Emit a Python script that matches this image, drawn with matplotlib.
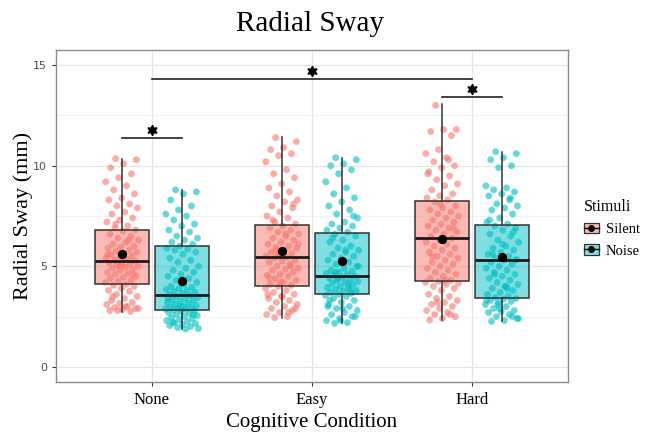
import numpy as np
import matplotlib
matplotlib.use("Agg")
import matplotlib.pyplot as plt
from matplotlib.patches import Patch
from matplotlib.lines import Line2D
from matplotlib.legend_handler import HandlerTuple
from matplotlib.colors import to_rgba

# ---------------- data ----------------
conditions = ["None", "Easy", "Hard"]
stimuli = ["Silent", "Noise"]

# box summary per condition (Silent / Noise)
silent_whislo = [2.74, 2.45, 2.33]
silent_q1 = [4.11, 4.00, 4.26]
silent_med = [5.26, 5.45, 6.39]
silent_q3 = [6.78, 7.06, 8.23]
silent_whishi = [10.35, 11.42, 13.05]
silent_mean = [5.63, 5.76, 6.34]

noise_whislo = [1.88, 2.16, 2.26]
noise_q1 = [2.82, 3.64, 3.43]
noise_med = [3.58, 4.54, 5.31]
noise_q3 = [6.00, 6.67, 7.06]
noise_whishi = [8.81, 10.38, 10.68]
noise_mean = [4.29, 5.26, 5.48]

# individual subjects (approximate readings)
none_silent = [10.35, 10.3, 10.1, 9.9, 9.6, 9.4, 9.2, 9.0, 8.8, 8.6, 8.4, 8.3, 8.1, 8.0,
               7.9, 7.7, 7.6, 7.4, 7.3, 7.2, 7.0, 6.9, 6.8, 6.75, 6.6, 6.5, 6.4, 6.3, 6.2,
               6.1, 6.0, 5.95, 5.9, 5.8, 5.75, 5.7, 5.6, 5.55, 5.5, 5.45, 5.4, 5.35, 5.3,
               5.25, 5.2, 5.15, 5.1, 5.05, 5.0, 4.95, 4.9, 4.85, 4.8, 4.7, 4.65, 4.6, 4.5,
               4.45, 4.4, 4.3, 4.25, 4.2, 4.1, 4.05, 4.0, 3.9, 3.8, 3.75, 3.6, 3.5, 3.4,
               3.3, 3.2, 3.15, 3.1, 3.0, 2.95, 2.9, 2.85, 2.8, 2.75, 2.8, 2.9, 3.0, 3.5,
               4.6, 5.0, 5.6, 6.3, 7.1]
none_noise = [8.8, 8.7, 8.6, 8.3, 8.0, 7.8, 7.6, 7.5, 7.3, 7.1, 7.0, 6.8, 6.7, 6.5, 6.4,
              6.3, 6.2, 6.1, 6.0, 5.9, 5.85, 5.8, 5.7, 5.6, 5.4, 5.3, 5.2, 5.0, 4.9, 4.8,
              4.7, 4.6, 4.5, 4.4, 4.3, 4.2, 4.1, 4.0, 3.95, 3.9, 3.85, 3.8, 3.75, 3.7,
              3.65, 3.6, 3.55, 3.5, 3.45, 3.4, 3.35, 3.3, 3.25, 3.2, 3.15, 3.1, 3.05, 3.0,
              2.98, 2.95, 2.9, 2.88, 2.85, 2.8, 2.78, 2.75, 2.7, 2.65, 2.6, 2.55, 2.5,
              2.45, 2.4, 2.35, 2.3, 2.25, 2.2, 2.15, 2.1, 2.05, 2.0, 1.95, 1.9, 1.88, 2.2,
              2.6, 3.0, 3.4]
easy_silent = [11.4, 11.2, 10.9, 10.8, 10.6, 10.5, 10.2, 9.8, 9.6, 9.4, 9.1, 8.9, 8.7, 8.5,
               8.3, 8.2, 8.0, 7.9, 7.7, 7.5, 7.4, 7.2, 7.1, 7.0, 6.9, 6.8, 6.7, 6.6, 6.5,
               6.4, 6.3, 6.2, 6.1, 6.0, 5.95, 5.9, 5.8, 5.7, 5.65, 5.6, 5.5, 5.45, 5.4,
               5.3, 5.25, 5.2, 5.1, 5.0, 4.9, 4.85, 4.8, 4.7, 4.6, 4.55, 4.5, 4.4, 4.3,
               4.2, 4.1, 4.05, 4.0, 3.9, 3.8, 3.7, 3.6, 3.5, 3.4, 3.3, 3.2, 3.1, 3.0, 2.9,
               2.8, 2.7, 2.6, 2.5, 2.45, 2.9, 3.5, 4.4, 5.0, 5.5, 6.1, 6.6, 7.3, 8.1, 4.2,
               3.6, 2.7, 5.8]
easy_noise = [10.4, 10.3, 10.1, 10.0, 9.8, 9.6, 9.2, 8.9, 8.6, 8.4, 8.2, 8.0, 7.8, 7.6,
              7.4, 7.2, 7.1, 7.0, 6.9, 6.8, 6.7, 6.6, 6.5, 6.3, 6.2, 6.0, 5.9, 5.8, 5.7,
              5.6, 5.5, 5.4, 5.3, 5.2, 5.1, 5.0, 4.9, 4.8, 4.75, 4.7, 4.65, 4.6, 4.55,
              4.5, 4.45, 4.4, 4.35, 4.3, 4.25, 4.2, 4.15, 4.1, 4.0, 3.95, 3.9, 3.85, 3.8,
              3.75, 3.7, 3.65, 3.6, 3.55, 3.5, 3.4, 3.3, 3.2, 3.1, 3.0, 2.9, 2.8, 2.7,
              2.6, 2.5, 2.4, 2.3, 2.2, 2.16, 2.5, 2.9, 3.3, 3.8, 4.4, 5.0, 5.8, 6.4, 7.5,
              2.3, 3.0, 4.1, 4.7]
hard_silent = [13.0, 11.8, 11.8, 11.7, 11.5, 10.8, 10.6, 10.4, 10.2, 10.0, 9.9, 9.7, 9.5,
               9.3, 9.1, 9.0, 8.8, 8.6, 8.5, 8.4, 8.3, 8.2, 8.0, 7.9, 7.8, 7.7, 7.6, 7.5,
               7.4, 7.3, 7.2, 7.1, 7.0, 6.9, 6.8, 6.7, 6.6, 6.5, 6.4, 6.3, 6.2, 6.1, 6.0,
               5.9, 5.8, 5.7, 5.6, 5.5, 5.4, 5.3, 5.2, 5.1, 5.0, 4.9, 4.8, 4.7, 4.6, 4.5,
               4.4, 4.3, 4.25, 4.2, 4.1, 4.0, 3.9, 3.8, 3.6, 3.5, 3.4, 3.3, 3.2, 3.1, 3.0,
               2.9, 2.8, 2.7, 2.6, 2.5, 2.4, 2.33, 2.6, 3.2, 4.15, 4.3, 5.5, 6.9, 8.1,
               9.6, 10.3]
hard_noise = [10.7, 10.6, 10.4, 10.3, 10.0, 9.9, 9.0, 8.9, 8.8, 8.7, 8.6, 8.5, 8.3, 8.1,
              8.0, 7.9, 7.8, 7.6, 7.4, 7.2, 7.1, 7.0, 6.9, 6.8, 6.6, 6.5, 6.3, 6.2, 6.0,
              5.9, 5.8, 5.7, 5.6, 5.5, 5.4, 5.35, 5.3, 5.2, 5.1, 5.0, 4.9, 4.8, 4.7, 4.6,
              4.5, 4.4, 4.3, 4.2, 4.1, 4.0, 3.9, 3.8, 3.7, 3.6, 3.5, 3.45, 3.4, 3.35, 3.3,
              3.25, 3.2, 3.1, 3.0, 2.9, 2.8, 2.75, 2.7, 2.6, 2.5, 2.4, 2.3, 2.26, 2.5, 2.9,
              3.3, 3.9, 4.6, 5.3, 6.1, 7.3, 8.4, 3.1, 2.4, 4.0, 5.6, 6.7]

points = {("None", "Silent"): none_silent, ("None", "Noise"): none_noise,
          ("Easy", "Silent"): easy_silent, ("Easy", "Noise"): easy_noise,
          ("Hard", "Silent"): hard_silent, ("Hard", "Noise"): hard_noise}

colors = {"Silent": "#F8766D", "Noise": "#00BFC4"}
dodge = {"Silent": -0.1875, "Noise": 0.1875}

# ---------------- figure ----------------
fig = plt.figure(figsize=(6.46, 4.32), dpi=100)
ax = fig.add_axes([0.0867, 0.116, 0.7925, 0.768])

serif = "Liberation Serif"

# jittered points
for i, cond in enumerate(conditions):
    for s in stimuli:
        ys = np.array(points[(cond, s)])
        k = np.arange(len(ys))
        jit = ((k * 0.6180339887 + 0.31) % 1.0 - 0.5) * 0.21
        ax.scatter(i + 1 + dodge[s] + jit, ys, s=24, color=colors[s], alpha=0.6,
                   edgecolors="none", zorder=2)

# boxes
for s, lo, q1, med, q3, hi, mn in [
        ("Silent", silent_whislo, silent_q1, silent_med, silent_q3, silent_whishi, silent_mean),
        ("Noise", noise_whislo, noise_q1, noise_med, noise_q3, noise_whishi, noise_mean)]:
    stats = []
    for j in range(len(conditions)):
        stats.append({"whislo": lo[j], "q1": q1[j], "med": med[j], "q3": q3[j],
                      "whishi": hi[j], "fliers": []})
    pos = [j + 1 + dodge[s] for j in range(len(conditions))]
    ax.bxp(stats, positions=pos, widths=0.335, patch_artist=True, showfliers=False,
           showcaps=False,
           boxprops=dict(facecolor=to_rgba(colors[s], 0.5), edgecolor="#333333", lw=1.1),
           medianprops=dict(color="#1a1a1a", lw=2.0),
           whiskerprops=dict(color="#333333", lw=1.1), zorder=3)
    ax.scatter(pos, mn, s=32, color="black", zorder=4)

# significance bars
sig_x0 = [1 - 0.1875, 1.0, 3 - 0.1875]
sig_x1 = [1 + 0.1875, 3.0, 3 + 0.1875]
sig_y = [11.37, 14.3, 13.43]
for x0, x1, y in zip(sig_x0, sig_x1, sig_y):
    ax.plot([x0, x1], [y, y], color="#222222", lw=1.2, zorder=5)
    ax.plot((x0 + x1) / 2, y + 0.4, marker=(6, 1, 0), color="black", markersize=7.5, zorder=5)

ax.set_xlim(0.4, 3.6)
ax.set_ylim(-0.75, 15.75)
ax.set_xticks([1, 2, 3])
ax.set_xticklabels(conditions, family=serif, fontsize=12)
ax.set_yticks([0, 5, 10, 15])
ax.set_yticks([2.5, 7.5, 12.5], minor=True)
ax.tick_params(axis="y", labelsize=8, labelcolor="#4D4D4D", color="#333333", length=3)
ax.tick_params(axis="y", which="minor", length=0)
ax.tick_params(axis="x", color="#333333", length=3, pad=4)
ax.grid(True, which="major", color="#E5E5E5", lw=0.9)
ax.grid(True, which="minor", axis="y", color="#F0F0F0", lw=0.6)
ax.set_axisbelow(True)
for sp in ax.spines.values():
    sp.set_color("#8C8C8C")
    sp.set_linewidth(1.0)

ax.set_xlabel("Cognitive Condition", family=serif, fontsize=15, labelpad=4)
ax.set_ylabel("Radial Sway (mm)", family=serif, fontsize=16, labelpad=0)
fig.text(0.48, 0.945, "Radial Sway", family=serif, fontsize=21, ha="center", va="center")

# legend
handles = []
for s in stimuli:
    handles.append((Patch(facecolor=to_rgba(colors[s], 0.5), edgecolor="#333333", lw=0.9),
                    Line2D([], [], color="black", marker="o", markersize=4, lw=1.0)))
leg = fig.legend(handles, stimuli, handler_map={tuple: HandlerTuple(ndivide=1)},
                 loc="center left", bbox_to_anchor=(0.893, 0.472), frameon=False,
                 title="Stimuli", prop={"family": serif, "size": 10.5}, borderpad=0,
                 handlelength=1.0, handleheight=0.75, handletextpad=0.5, labelspacing=0.55)
leg.get_title().set_family(serif)
leg.get_title().set_fontsize(11.5)
leg._legend_box.align = "left"

fig.savefig("out.png", dpi=100)
